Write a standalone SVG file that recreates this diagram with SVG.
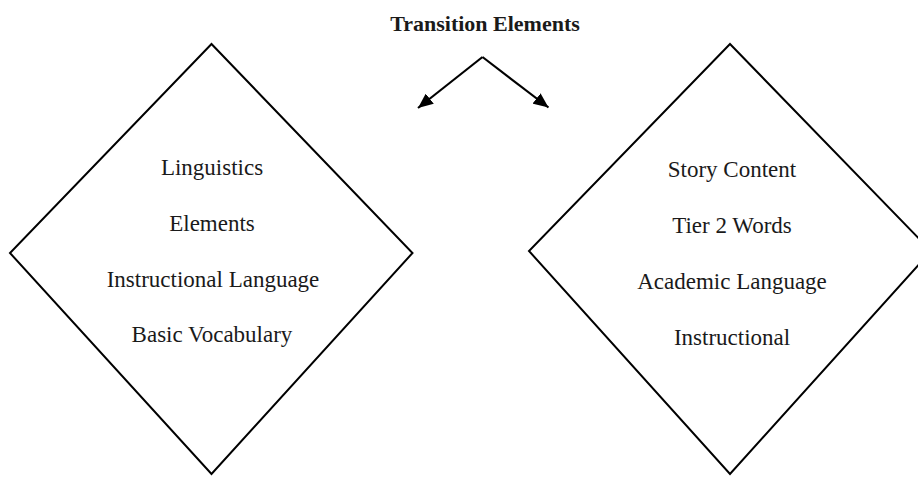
<svg xmlns="http://www.w3.org/2000/svg" width="918" height="477" viewBox="0 0 918 477">
<style>
.shape{fill:#fff;stroke:#000;stroke-width:2;stroke-linejoin:miter}
.lbl{font-family:"Liberation Serif","Times New Roman",serif;font-size:23px;fill:#1a1a1a;text-anchor:middle}
.title{font-family:"Liberation Serif","Times New Roman",serif;font-size:22px;font-weight:bold;fill:#1a1a1a;text-anchor:middle}
.conn{fill:none;stroke:#000;stroke-width:2.2}
</style>
<defs>
<marker id="ah" markerWidth="15" markerHeight="13" refX="15" refY="6.5" orient="auto" markerUnits="userSpaceOnUse" viewBox="0 0 15 13">
<path d="M0,0 L15,6.5 L0,13 z" fill="#000"/>
</marker>
</defs>
<rect width="918" height="477" fill="#fff"/>
<g id="title">
<text class="title" x="485" y="31">Transition Elements</text>
</g>
<g id="connectors">
<path class="conn" d="M482.5,57 L418,108" marker-end="url(#ah)"/>
<path class="conn" d="M482.5,57 L548.5,107.5" marker-end="url(#ah)"/>
</g>
<g id="left-node">
<polygon class="shape" points="211.5,44 412.5,253 211.5,474 10,253"/>
<text class="lbl" x="212" y="175">Linguistics</text>
<text class="lbl" x="212" y="231">Elements</text>
<text class="lbl" x="213" y="287">Instructional Language</text>
<text class="lbl" x="212" y="342">Basic Vocabulary</text>
</g>
<g id="right-node">
<polygon class="shape" points="730,44 931,251 730,474 529,251"/>
<text class="lbl" x="732" y="177">Story Content</text>
<text class="lbl" x="732" y="233">Tier 2 Words</text>
<text class="lbl" x="732" y="289">Academic Language</text>
<text class="lbl" x="732" y="345">Instructional</text>
</g>
</svg>
